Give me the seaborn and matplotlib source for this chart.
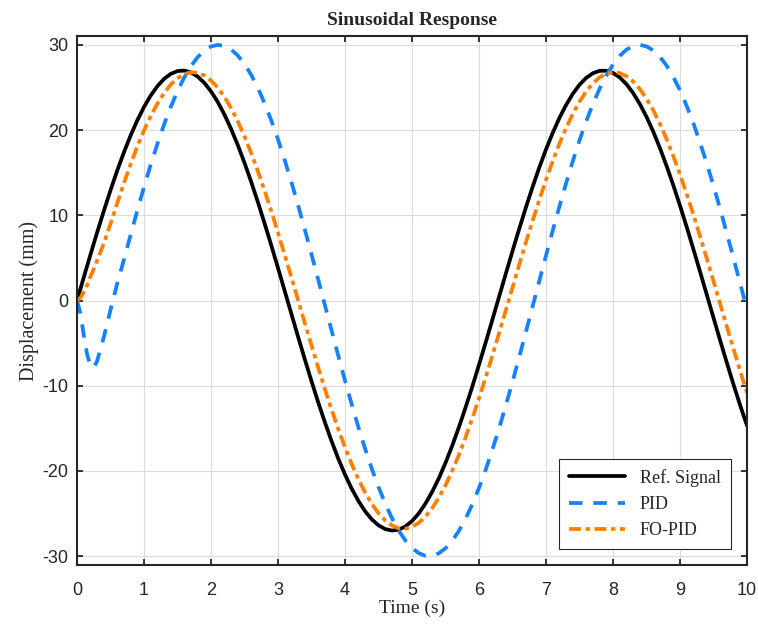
import pandas as pd
import matplotlib.pyplot as plt
import seaborn as sns

# --- DATA ---
time_s = [0, 0.05, 0.1, 0.15, 0.2, 0.25, 0.3, 0.4, 0.5,
          0.6, 0.7, 0.8, 0.9, 1.0, 1.1, 1.2, 1.3, 1.4, 1.5,
          1.6, 1.7, 1.8, 1.9, 2.0, 2.1, 2.2, 2.3, 2.4, 2.5,
          2.6, 2.7, 2.8, 2.9, 3.0, 3.1, 3.2, 3.3, 3.4, 3.5,
          3.6, 3.7, 3.8, 3.9, 4.0, 4.1, 4.2, 4.3, 4.4, 4.5,
          4.6, 4.7, 4.8, 4.9, 5.0, 5.1, 5.2, 5.3, 5.4, 5.5,
          5.6, 5.7, 5.8, 5.9, 6.0, 6.1, 6.2, 6.3, 6.4, 6.5,
          6.6, 6.7, 6.8, 6.9, 7.0, 7.1, 7.2, 7.3, 7.4, 7.5,
          7.6, 7.7, 7.8, 7.9, 8.0, 8.1, 8.2, 8.3, 8.4, 8.5,
          8.6, 8.7, 8.8, 8.9, 9.0, 9.1, 9.2, 9.3, 9.4, 9.5,
          9.6, 9.7, 9.8, 9.9, 10.0]

ref_signal = [0, 1.35, 2.70, 4.03, 5.36, 6.68, 7.98, 10.51, 12.94,
              15.25, 17.39, 19.37, 21.15, 22.72, 24.06, 25.16, 26.02, 26.61, 26.93,
              26.99, 26.78, 26.29, 25.55, 24.55, 23.31, 21.83, 20.13, 18.24, 16.16,
              13.92, 11.54, 9.04, 6.46, 3.81, 1.12, -1.58, -4.26, -6.90, -9.47,
              -11.95, -14.30, -16.52, -18.57, -20.43, -22.09, -23.53, -24.74, -25.69, -26.39,
              -26.83, -27.00, -26.90, -26.53, -25.89, -25.00, -23.85, -22.47, -20.87, -19.05,
              -17.05, -14.87, -12.54, -10.10, -7.54, -4.92, -2.24, 0.45, 3.15, 5.81,
              8.41, 10.93, 13.34, 15.62, 17.74, 19.68, 21.43, 22.96, 24.26, 25.33,
              26.13, 26.68, 26.96, 26.97, 26.71, 26.19, 25.40, 24.36, 23.07, 21.56,
              19.83, 17.90, 15.79, 13.53, 11.13, 8.63, 6.02, 3.36, 0.67, -2.03,
              -4.71, -7.34, -9.90, -12.35, -14.69]

pid = [0, -1.5, -4.0, -6.3, -7.6, -7.9, -7.1, -4.3, -1.1,
       2.0, 4.78, 7.7, 10.57, 13.32, 15.94, 18.39, 20.67, 22.73, 24.58,
       26.17, 27.50, 28.56, 29.34, 29.82, 30.00, 29.88, 29.47, 28.76, 27.76,
       26.48, 24.93, 23.15, 21.13, 18.90, 16.48, 13.90, 11.17, 8.33, 5.42,
       2.45, -0.55, -3.54, -6.50, -9.40, -12.19, -14.87, -17.39, -19.75, -21.90,
       -23.84, -25.54, -26.98, -28.16, -29.05, -29.65, -29.97, -29.96, -29.67, -29.08,
       -28.21, -27.04, -25.61, -23.92, -22.00, -19.85, -17.51, -14.99, -12.32, -9.54,
       -6.64, -3.69, -0.70, 2.30, 5.28, 8.20, 11.04, 13.77, 16.36, 18.80,
       21.04, 23.06, 24.86, 26.41, 27.70, 28.71, 29.44, 29.87, 30.00, 29.83,
       29.36, 28.61, 27.57, 26.24, 24.67, 22.83, 20.79, 18.51, 16.07, 13.45,
       10.73, 7.85, 4.92, 1.94, -1.06]

fo_pid = [0, 0.3, 1.0, 1.8, 2.8, 3.7, 4.7, 6.7, 9.0,
          11.41, 13.78, 16.00, 18.07, 19.96, 21.64, 23.11, 24.35, 25.35, 26.09,
          26.57, 26.79, 26.74, 26.42, 25.82, 24.99, 23.91, 22.58, 21.02, 19.25,
          17.30, 15.17, 12.89, 10.48, 7.96, 5.37, 2.72, 0.04, -2.63, -5.28,
          -7.87, -10.40, -12.81, -15.10, -17.22, -19.20, -20.96, -22.53, -23.87, -24.97,
          -25.81, -26.40, -26.74, -26.79, -26.58, -26.11, -25.37, -24.39, -23.15, -21.69,
          -20.00, -18.13, -16.06, -13.84, -11.48, -9.01, -6.45, -3.82, -1.16, 1.52,
          4.19, 6.81, 9.36, 11.82, 14.16, 16.36, 18.40, 20.25, 21.91, 23.33,
          24.54, 25.49, 26.19, 26.63, 26.80, 26.70, 26.33, 25.71, 24.83, 23.70,
          22.35, 20.74, 18.94, 16.95, 14.80, 12.49, 10.07, 7.53, 4.92, 2.27,
          -0.41, -3.08, -5.72, -8.31, -10.82]

x_ticks = [0, 1, 2, 3, 4, 5, 6, 7, 8, 9, 10]
y_ticks = [-30, -20, -10, 0, 10, 20, 30]

df = pd.DataFrame({'Time': time_s, 'Ref': ref_signal, 'PID': pid, 'FO': fo_pid})

sns.set_theme(style="whitegrid")
plt.rcParams['font.family'] = ['Liberation Sans', 'DejaVu Sans']
plt.rcParams['axes.unicode_minus'] = False

fig = plt.figure(figsize=(7.58, 6.29), dpi=100)
ax = fig.add_axes([0.1016, 0.1017, 0.8839, 0.8411])

sns.lineplot(data=df, x='Time', y='Ref', ax=ax, color='black', linewidth=2.7,
             label='Ref. Signal')
sns.lineplot(data=df, x='Time', y='PID', ax=ax, color='#1482FA', linewidth=2.7,
             linestyle=(0, (3.6, 2.9)), label='PID')
sns.lineplot(data=df, x='Time', y='FO', ax=ax, color='#FF8000', linewidth=2.7,
             linestyle=(0, (3.2, 1.2, 1.2, 1.2)), label='FO-PID')

ax.set_xlim(0, 10)
ax.set_ylim(-31.05, 31.05)
ax.set_xticks(x_ticks)
ax.set_yticks(y_ticks)
ax.tick_params(direction='in', length=4.5, width=1.3, colors='#262626',
               labelsize=13, top=True, right=True, bottom=True, left=True)
ax.tick_params(axis='x', pad=12)
ax.tick_params(axis='y', pad=6)
ax.grid(True, color='#dcdcdc', linewidth=0.8)
ax.set_facecolor('white')
for sp in ax.spines.values():
    sp.set_color('#262626')
    sp.set_linewidth(1.5)

serif = ['Liberation Serif', 'DejaVu Serif']
ax.set_title('Sinusoidal Response', family=serif, fontsize=14, fontweight='bold', pad=8)
ax.set_xlabel('Time (s)', family=serif, fontsize=14, labelpad=1)
ax.set_ylabel('Displacement (mm)', family=serif, fontsize=14.5, labelpad=3)

leg = ax.legend(loc='lower right', frameon=True, fancybox=False, edgecolor='#262626',
                facecolor='white', framealpha=1, borderaxespad=0.9,
                prop={'family': serif, 'size': 13}, handlelength=3.1,
                labelspacing=0.5, borderpad=0.55)
leg.get_frame().set_linewidth(0.8)

plt.savefig('out.png', dpi=100)
